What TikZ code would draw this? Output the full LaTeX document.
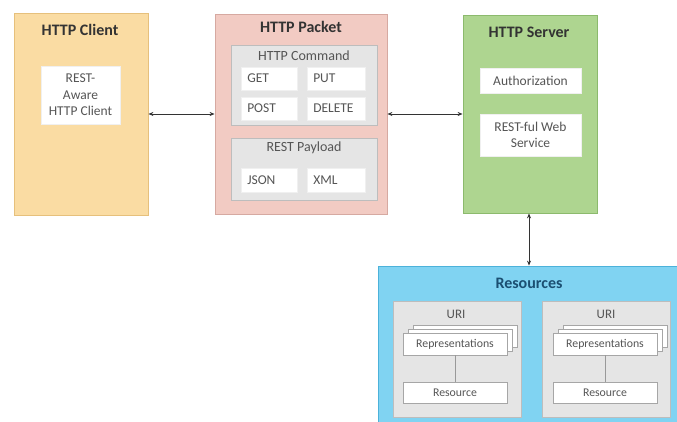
\documentclass[tikz,border=0pt]{standalone}
\usepackage{fontspec}
\setmainfont{Carlito}
\usetikzlibrary{arrows.meta}
\definecolor{clientfill}{HTML}{FADCA3}
\definecolor{clientdraw}{HTML}{E6C07C}
\definecolor{packetfill}{HTML}{F2CBC3}
\definecolor{packetdraw}{HTML}{D6A9A1}
\definecolor{serverfill}{HTML}{AED590}
\definecolor{serverdraw}{HTML}{8CBA6D}
\definecolor{resfill}{HTML}{80D3F2}
\definecolor{resdraw}{HTML}{4CB2DA}
\definecolor{grayfill}{HTML}{E5E5E5}
\definecolor{graydraw}{HTML}{BDBDBD}
\definecolor{txt}{HTML}{555555}
\definecolor{ttl}{HTML}{333333}
\definecolor{restitle}{HTML}{1B4F72}
\tikzset{
  outer/.style={draw, line width=0.8pt, inner sep=0pt},
  grp/.style={draw=graydraw, fill=grayfill, line width=0.7pt, inner sep=0pt},
  wbox/.style={draw=white!88!gray, fill=white, line width=0.5pt, inner sep=0pt, text=txt, font=\fontsize{13.5}{16.5}\selectfont, align=center},
  lbox/.style={wbox, anchor=west, align=left},
  sbox/.style={draw=gray!70, fill=white, line width=0.6pt, inner sep=0pt, text=txt, font=\fontsize{11.8}{13}\selectfont},
  ttlstyle/.style={text=ttl, font=\fontsize{16}{18}\selectfont\bfseries},
  subttl/.style={text=txt, font=\fontsize{14}{16}\selectfont},
  conn/.style={draw=ttl, line width=0.8pt, {Stealth[length=5pt,width=4pt]}-{Stealth[length=5pt,width=4pt]}},
}
\begin{document}
\begin{tikzpicture}[x=1pt,y=-1pt]
\useasboundingbox (0,0) rectangle (677,422);
\fill[white] (0,0) rectangle (677,422);
% HTTP Client
\node[outer, draw=clientdraw, fill=clientfill, minimum width=134, minimum height=202] (client) at (81,114) {};
\node[ttlstyle] (clientT) at (80,30) {HTTP Client};
\node[wbox, minimum width=79, minimum height=58] (rac) at (80.5,95) {REST-\\Aware\\HTTP Client};
% HTTP Packet
\node[outer, draw=packetdraw, fill=packetfill, minimum width=172, minimum height=200] (packet) at (301,114) {};
\node[ttlstyle] (packetT) at (301,27) {HTTP Packet};
\node[grp, minimum width=146, minimum height=80] (cmd) at (304,85) {};
\node[subttl] (cmdT) at (304,56) {HTTP Command};
\node[lbox, minimum width=56, minimum height=23, text width=56] (get) at (241,78.5) {\hspace*{6pt}GET};
\node[lbox, minimum width=58, minimum height=23, text width=58] (put) at (307,78.5) {\hspace*{6pt}PUT};
\node[lbox, minimum width=56, minimum height=23, text width=56] (post) at (241,108.5) {\hspace*{6pt}POST};
\node[lbox, minimum width=58, minimum height=23, text width=58] (delete) at (307,108.5) {\hspace*{6pt}DELETE};
\node[grp, minimum width=146, minimum height=62] (pay) at (304,169) {};
\node[subttl] (payT) at (304,148) {REST Payload};
\node[lbox, minimum width=56, minimum height=24, text width=56] (json) at (241,180) {\hspace*{6pt}JSON};
\node[lbox, minimum width=58, minimum height=24, text width=58] (xml) at (307,180) {\hspace*{6pt}XML};
% HTTP Server
\node[outer, draw=serverdraw, fill=serverfill, minimum width=134, minimum height=198] (server) at (530,114) {};
\node[ttlstyle] (serverT) at (529,32) {HTTP Server};
\node[wbox, minimum width=101, minimum height=25] (auth) at (530.5,80.5) {Authorization};
\node[wbox, minimum width=101, minimum height=42] (rws) at (530.5,135) {REST-ful Web\\Service};
% Resources
\node[outer, draw=resdraw, fill=resfill, minimum width=299, minimum height=156] (res) at (527.5,344) {};
\node[ttlstyle, text=restitle] (resT) at (529,283) {Resources};
\foreach \n/\cx/\rx in {L/457/455, R/606/605}{
  \node[grp, minimum width=128, minimum height=116] (uri\n) at (\cx,359) {};
  \node[text=txt, font=\fontsize{13}{15}\selectfont] (uriT\n) at (\rx+1,314) {URI};
  \node[sbox, minimum width=104, minimum height=22] (rb\n) at (\rx+10,336) {};
  \node[sbox, minimum width=104, minimum height=22] (ra\n) at (\rx+5,340) {};
  \node[sbox, minimum width=104, minimum height=22] (rep\n) at (\rx,344) {Representations};
  \node[sbox, minimum width=104, minimum height=21] (rsc\n) at (\rx,392.5) {Resource};
  \draw[draw=gray!80, line width=0.8pt] (rep\n) -- (rsc\n);
}
% connectors
\draw[conn] (client.east) -- (packet.west);
\draw[conn] (packet.east) -- (server.west);
\coordinate (sv) at ([xshift=-1pt]server.south);
\draw[conn] (sv) -- (sv |- res.north);
\end{tikzpicture}
\end{document}
